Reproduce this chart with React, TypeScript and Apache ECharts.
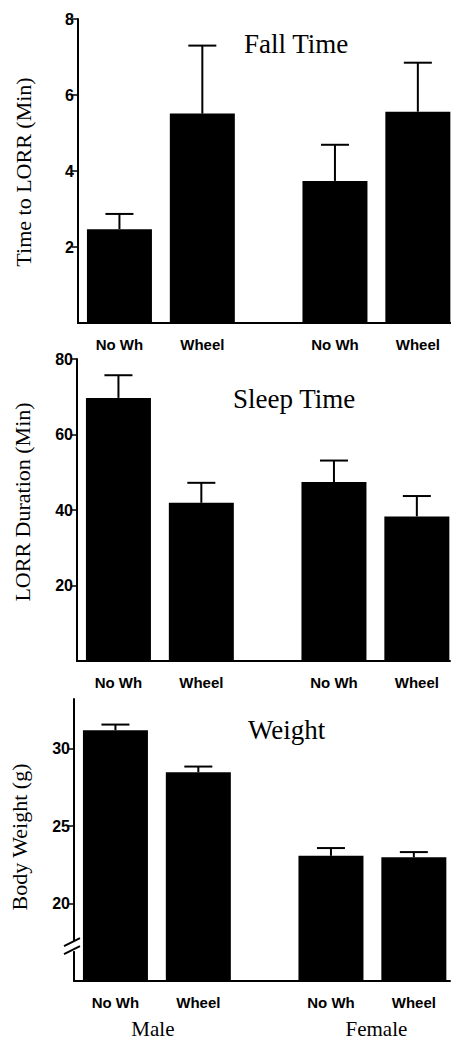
import React, { useEffect, useRef } from "react";
import * as echarts from "echarts";

const categories = ["No Wh", "Wheel", "No Wh", "Wheel"];
const groupLabels = ["Male", "Female"];
const barPositions = [0.5, 1.5, 3.1, 4.1];

const fallMean = [2.47, 5.51, 3.74, 5.56];
const fallErr = [0.4, 1.79, 0.95, 1.29];
const sleepMean = [69.7, 41.9, 47.4, 38.3];
const sleepErr = [6.0, 5.3, 5.7, 5.4];
const weightMean = [31.18, 28.47, 23.08, 22.98];
const weightErr = [0.37, 0.37, 0.5, 0.34];

const panelTitles = ["Fall Time", "Sleep Time", "Weight"];
const yTitles = ["Time to LORR (Min)", "LORR Duration (Min)", "Body Weight (g)"];
const fallTicks = [2, 4, 6, 8];
const sleepTicks = [20, 40, 60, 80];
const weightTicks = [20, 25, 30];

const SERIF = "'Liberation Serif', 'Times New Roman', serif";
const SANS = "'Liberation Sans', Arial, Helvetica, sans-serif";

export default function App() {
  const ref = useRef<HTMLDivElement>(null);
  useEffect(() => {
    if (!ref.current) return;
    const chart = echarts.init(ref.current, null, { renderer: "svg" });

    const grids = [
      { left: 78, top: 19, width: 373, height: 304 },
      { left: 77, top: 359, width: 373, height: 302 },
      { left: 74, top: 699, width: 376, height: 282 },
    ];
    const xMax = [4.5, 4.5, 4.5 * 376 / 373];
    const yRanges = [
      { min: 0, max: 8, ticks: fallTicks },
      { min: 0, max: 80, ticks: sleepTicks },
      { min: 15, max: 33.2, ticks: weightTicks },
    ];
    const means = [fallMean, sleepMean, weightMean];
    const errs = [fallErr, sleepErr, weightErr];

    const xAxes = grids.map((_, i) => ({
      type: "value",
      gridIndex: i,
      min: 0,
      max: xMax[i],
      splitLine: { show: false },
      axisTick: { show: false },
      axisLine: { show: true, onZero: false, lineStyle: { color: "#000", width: 2 } },
      axisLabel: {
        customValues: barPositions,
        formatter: (v: number) => {
          const idx = barPositions.findIndex((p) => Math.abs(p - v) < 1e-6);
          return idx >= 0 ? categories[idx] : "";
        },
        color: "#000",
        fontFamily: SANS,
        fontWeight: "bold",
        fontSize: 15,
        margin: 14,
      },
    }));

    const yAxes = yRanges.map((r, i) => ({
      type: "value",
      gridIndex: i,
      min: r.min,
      max: r.max,
      splitLine: { show: false },
      axisLine: { show: true, onZero: false, lineStyle: { color: "#000", width: 2 } },
      axisTick: {
        show: true,
        customValues: r.ticks,
        length: 6,
        lineStyle: { color: "#000", width: 1.5 },
      },
      axisLabel: {
        customValues: r.ticks,
        color: "#000",
        fontFamily: SANS,
        fontWeight: "bold",
        fontSize: 16,
        margin: 4,
      },
    }));

    const series: any[] = [];
    means.forEach((m, i) => {
      series.push({
        type: "bar",
        xAxisIndex: i,
        yAxisIndex: i,
        barWidth: 65,
        itemStyle: { color: "#000" },
        data: m.map((v, k) => [barPositions[k], v]),
      });
      series.push({
        type: "custom",
        xAxisIndex: i,
        yAxisIndex: i,
        data: m.map((v, k) => [barPositions[k], v, v + errs[i][k]]),
        renderItem: (params: any, api: any) => {
          const base = api.coord([api.value(0), api.value(1)]);
          const top = api.coord([api.value(0), api.value(2)]);
          const half = 14;
          return {
            type: "group",
            children: [
              {
                type: "line",
                shape: { x1: base[0], y1: base[1], x2: top[0], y2: top[1] },
                style: { stroke: "#000", lineWidth: 2 },
              },
              {
                type: "line",
                shape: { x1: top[0] - half, y1: top[1], x2: top[0] + half, y2: top[1] },
                style: { stroke: "#000", lineWidth: 2 },
              },
            ],
          };
        },
      });
    });

    const titlePos = [
      { x: 244, y: 44 },
      { x: 233, y: 399 },
      { x: 248, y: 730 },
    ];
    const yTitlePos = [
      { x: 23, y: 172 },
      { x: 22.5, y: 502 },
      { x: 19, y: 837 },
    ];

    const graphic: any[] = [];
    panelTitles.forEach((t, i) => {
      graphic.push({
        type: "text",
        x: titlePos[i].x,
        y: titlePos[i].y,
        style: {
          text: t,
          fontFamily: SERIF,
          fontSize: 27,
          fill: "#000",
          textAlign: "left",
          textVerticalAlign: "middle",
        },
      });
    });
    yTitles.forEach((t, i) => {
      graphic.push({
        type: "text",
        x: yTitlePos[i].x,
        y: yTitlePos[i].y,
        rotation: Math.PI / 2,
        style: {
          text: t,
          fontFamily: SERIF,
          fontSize: 22,
          fill: "#000",
          textAlign: "center",
          textVerticalAlign: "middle",
        },
      });
    });

    chart.setOption({
      animation: false,
      backgroundColor: "#fff",
      grid: grids.map((g) => ({ ...g, containLabel: false })),
      xAxis: xAxes,
      yAxis: yAxes,
      series,
      graphic,
    });

    const male = chart.convertToPixel({ gridIndex: 2 } as any, [
      (barPositions[0] + barPositions[1]) / 2,
      15,
    ]) as number[];
    const female = chart.convertToPixel({ gridIndex: 2 } as any, [
      (barPositions[2] + barPositions[3]) / 2,
      15,
    ]) as number[];
    const breakY = (chart.convertToPixel({ gridIndex: 2 } as any, [0, 17.25]) as number[])[1];
    const axisX = grids[2].left;

    chart.setOption({
      graphic: [
        ...graphic,
        {
          type: "text",
          x: male[0] - 4,
          y: 1029,
          style: {
            text: groupLabels[0],
            fontFamily: SERIF,
            fontSize: 21,
            fill: "#000",
            textAlign: "center",
            textVerticalAlign: "middle",
          },
        },
        {
          type: "text",
          x: female[0] + 4,
          y: 1029,
          style: {
            text: groupLabels[1],
            fontFamily: SERIF,
            fontSize: 21,
            fill: "#000",
            textAlign: "center",
            textVerticalAlign: "middle",
          },
        },
        {
          type: "rect",
          shape: { x: axisX - 3, y: breakY - 5, width: 6, height: 10 },
          style: { fill: "#fff" },
          z: 100,
        },
        {
          type: "line",
          shape: { x1: axisX - 10, y1: breakY + 8, x2: axisX + 6, y2: breakY },
          style: { stroke: "#000", lineWidth: 2 },
          z: 101,
        },
        {
          type: "line",
          shape: { x1: axisX - 10, y1: breakY, x2: axisX + 6, y2: breakY - 8 },
          style: { stroke: "#000", lineWidth: 2 },
          z: 101,
        },
      ],
    });

    return () => chart.dispose();
  }, []);

  return (
    <div
      ref={ref}
      style={{ position: "absolute", left: 0, top: 0, width: 451, height: 1042, background: "#fff" }}
    />
  );
}
